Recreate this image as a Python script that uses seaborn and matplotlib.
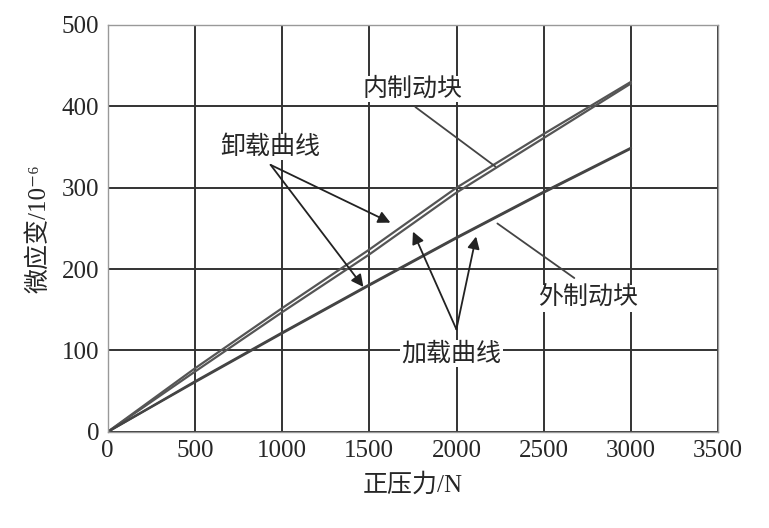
import matplotlib
matplotlib.use('Agg')
import matplotlib.pyplot as plt
import seaborn as sns
import pandas as pd

# 数据
force = [0, 500, 1000, 1500, 2000, 2500, 3000]
inner_load = [0, 74, 147, 218, 294, 361, 428]
inner_unload = [0, 78, 152, 224, 300, 366, 430]
outer_load = [0, 61, 121, 180, 238, 294, 348]
outer_unload = [0, 62, 122, 181, 239, 295, 349]

x_ticks = [0, 500, 1000, 1500, 2000, 2500, 3000, 3500]
y_ticks = [0, 100, 200, 300, 400, 500]

series = {
    '内制动块-加载': inner_load,
    '内制动块-卸载': inner_unload,
    '外制动块-加载': outer_load,
    '外制动块-卸载': outer_unload,
}
df = pd.concat(
    [pd.DataFrame({'正压力': force, '微应变': v, '曲线': k}) for k, v in series.items()],
    ignore_index=True,
)

sns.set_style('white')
plt.rcParams['font.family'] = ['Liberation Serif', 'Noto Sans CJK SC', 'DejaVu Sans']

fig = plt.figure(figsize=(7.69, 5.28), dpi=100)
ax = fig.add_axes([0.140, 0.182, 0.794, 0.771])

sns.lineplot(data=df, x='正压力', y='微应变', hue='曲线', units='曲线', estimator=None,
             palette=['#555555', '#555555', '#444444', '#444444'], linewidth=1.6,
             legend=False, ax=ax)

ax.set_xlim(0, 3500)
ax.set_ylim(0, 500)
ax.set_xticks(x_ticks)
ax.set_yticks(y_ticks)
ax.grid(True, color='#333333', linewidth=1.4)
ax.set_axisbelow(True)
for s in ax.spines.values():
    s.set_color('#999999')
    s.set_linewidth(1.0)
ax.tick_params(direction='in', length=3, labelsize=18, color='#777777', pad=6)

ax.set_xlabel('正压力/N', fontsize=18, labelpad=8)
ax.set_ylabel('微应变/10⁻⁶', fontsize=18, labelpad=8)

box = dict(facecolor='white', edgecolor='none', pad=1)
ax.text(1747, 421, '内制动块', fontsize=18, ha='center', va='center', bbox=box)
ax.text(2755, 164, '外制动块', fontsize=18, ha='center', va='center', bbox=box)
ax.text(934, 350, '卸载曲线', fontsize=18, ha='center', va='center', bbox=box)
ax.text(1970, 96, '加载曲线', fontsize=18, ha='center', va='center', bbox=box)

# 指引线
ax.plot([1764, 2222], [399, 326], color='#444444', lw=1.3)
ax.plot([2675, 2234], [189, 256], color='#444444', lw=1.3)

arrow = dict(arrowstyle='-|>', color='#222222', lw=1.3, mutation_scale=18, shrinkA=0, shrinkB=0)
ax.annotate('', xy=(1621, 257), xytext=(934, 328), arrowprops=arrow)
ax.annotate('', xy=(1466, 178), xytext=(934, 328), arrowprops=arrow)
ax.annotate('', xy=(1750, 246), xytext=(1999, 126), arrowprops=arrow)
ax.annotate('', xy=(2112, 240), xytext=(1999, 126), arrowprops=arrow)

fig.savefig('out.png', dpi=100)
plt.close(fig)
